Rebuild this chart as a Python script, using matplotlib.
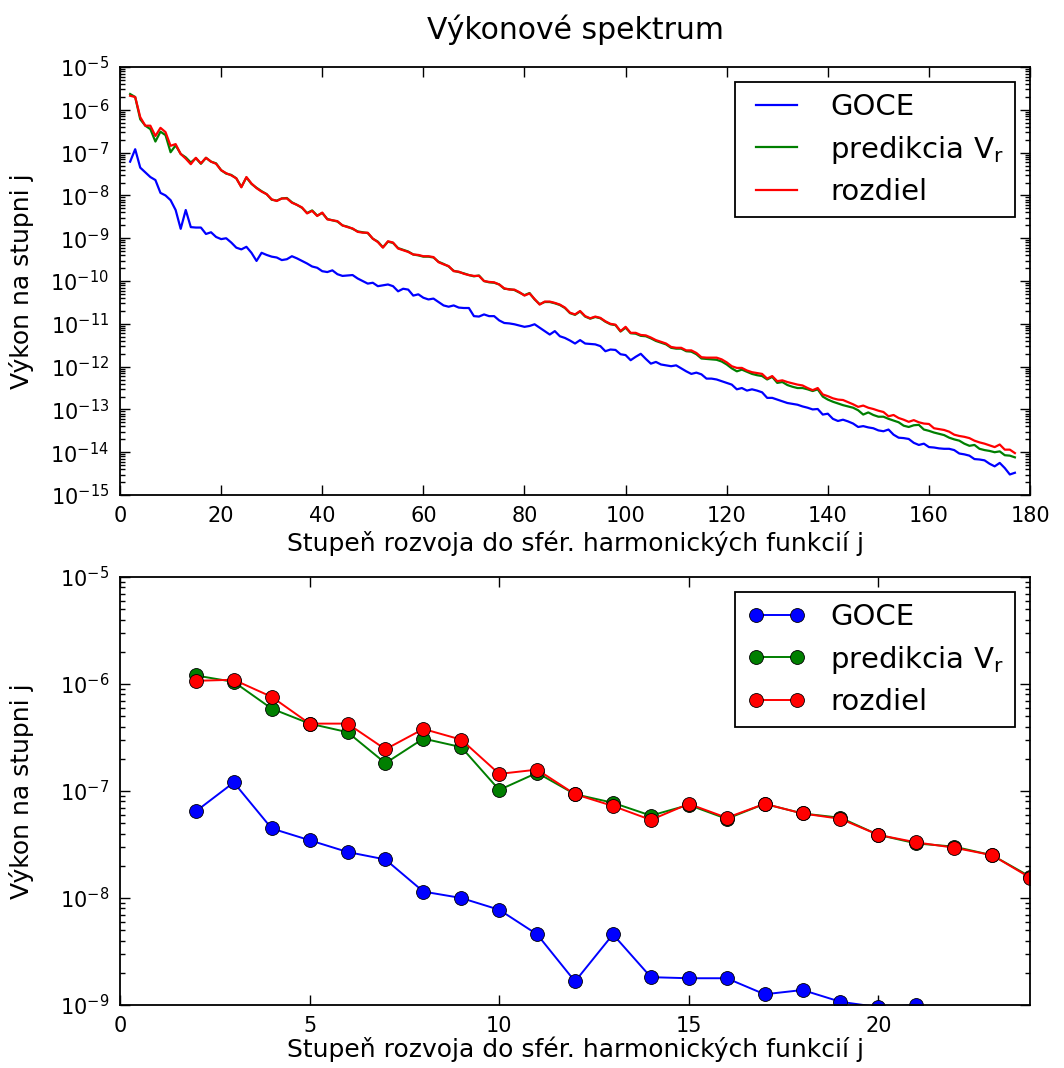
import numpy as np
import matplotlib
matplotlib.use('Agg')
import matplotlib.pyplot as plt
from matplotlib.ticker import (FixedLocator, LogFormatterSciNotation,
                               NullFormatter, MultipleLocator)

plt.rcParams['font.family'] = ['DejaVu Sans']
plt.rcParams['mathtext.fontset'] = 'dejavusans'

# degree j of the spherical harmonic expansion (top panel)
degree = np.arange(2, 178)

# log10 of the power per degree
goce_log = [
    -7.21, -6.92, -7.35, -7.46, -7.57, -7.64, -7.94, -8.00, -8.11, -8.34,
    -8.78, -8.34, -8.74, -8.75, -8.75, -8.90, -8.86, -8.97, -9.02, -9.00,
    -9.10, -9.22, -9.26, -9.20, -9.34, -9.53, -9.34, -9.39, -9.43,
    -9.45, -9.51, -9.49, -9.42, -9.47, -9.53, -9.59, -9.66, -9.69, -9.77,
    -9.79, -9.75, -9.84, -9.88, -9.87, -9.86, -9.94, -10.00, -10.06, -10.04,
    -10.12, -10.10, -10.08, -10.12, -10.24, -10.18, -10.20, -10.34, -10.31, -10.39,
    -10.43, -10.41, -10.49, -10.57, -10.60, -10.57, -10.62, -10.63, -10.63, -10.82,
    -10.83, -10.78, -10.82, -10.82, -10.92, -10.98, -10.99, -11.01, -11.04, -11.07,
    -11.05, -11.01, -11.09, -11.17, -11.25, -11.17, -11.29, -11.33, -11.39, -11.46,
    -11.38, -11.46, -11.47, -11.48, -11.52, -11.64, -11.60, -11.61, -11.71, -11.73,
    -11.85, -11.77, -11.70, -11.82, -11.93, -11.89, -11.95, -11.97, -11.99, -11.97,
    -12.04, -12.11, -12.17, -12.14, -12.18, -12.28, -12.28, -12.30, -12.34, -12.38,
    -12.42, -12.53, -12.50, -12.56, -12.53, -12.56, -12.60, -12.73, -12.73, -12.77,
    -12.81, -12.85, -12.87, -12.89, -12.93, -12.96, -13.00, -12.99, -13.12, -13.10,
    -13.22, -13.27, -13.24, -13.28, -13.33, -13.41, -13.39, -13.42, -13.44,
    -13.49, -13.51, -13.47, -13.59, -13.66, -13.67, -13.69, -13.78, -13.83, -13.80,
    -13.88, -13.89, -13.91, -13.92, -13.92, -13.95, -14.03, -14.05, -14.08, -14.16,
    -14.17, -14.19, -14.27, -14.33, -14.25, -14.37, -14.52, -14.48,
]

pred_log = [
    -5.63, -5.70, -6.22, -6.37, -6.45, -6.74, -6.51, -6.59, -6.99, -6.83,
    -7.03, -7.11, -7.23, -7.13, -7.26, -7.12, -7.21, -7.25, -7.41, -7.49,
    -7.52, -7.60, -7.80, -7.58, -7.73, -7.82, -7.90, -7.97, -8.10,
    -8.12, -8.07, -8.06, -8.16, -8.22, -8.29, -8.41, -8.35, -8.47, -8.41,
    -8.55, -8.58, -8.61, -8.70, -8.73, -8.78, -8.84, -8.86, -8.88, -9.01,
    -9.08, -9.21, -9.08, -9.11, -9.23, -9.27, -9.31, -9.38, -9.40, -9.43,
    -9.43, -9.45, -9.55, -9.60, -9.66, -9.76, -9.79, -9.82, -9.86, -9.89,
    -9.87, -10.00, -10.03, -10.04, -10.08, -10.18, -10.19, -10.21, -10.27, -10.33,
    -10.28, -10.43, -10.54, -10.49, -10.49, -10.52, -10.56, -10.63, -10.75, -10.79,
    -10.71, -10.83, -10.88, -10.84, -10.87, -10.95, -11.01, -11.03, -11.18, -11.09,
    -11.22, -11.23, -11.28, -11.29, -11.34, -11.40, -11.44, -11.48, -11.56, -11.58,
    -11.58, -11.64, -11.65, -11.71, -11.81, -11.82, -11.83, -11.84, -11.88, -11.95,
    -12.04, -12.11, -12.07, -12.12, -12.17, -12.20, -12.22, -12.30, -12.24, -12.38,
    -12.36, -12.43, -12.47, -12.50, -12.50, -12.53, -12.57, -12.53, -12.70, -12.77,
    -12.82, -12.86, -12.90, -12.93, -12.96, -13.02, -13.12, -13.07, -13.13,
    -13.17, -13.17, -13.22, -13.26, -13.30, -13.38, -13.41, -13.37, -13.36, -13.47,
    -13.50, -13.54, -13.57, -13.60, -13.66, -13.70, -13.73, -13.80, -13.85, -13.83,
    -13.92, -13.95, -13.97, -14.00, -13.98, -14.07, -14.08, -14.12,
]

diff_log = [
    -5.67, -5.70, -6.17, -6.37, -6.37, -6.61, -6.42, -6.52, -6.84, -6.80,
    -7.03, -7.14, -7.27, -7.12, -7.25, -7.12, -7.21, -7.26, -7.41, -7.48,
    -7.53, -7.60, -7.81, -7.57, -7.72, -7.83, -7.91, -7.97, -8.09,
    -8.13, -8.07, -8.07, -8.17, -8.22, -8.28, -8.42, -8.36, -8.48, -8.40,
    -8.56, -8.58, -8.60, -8.70, -8.74, -8.77, -8.85, -8.87, -8.87, -9.01,
    -9.09, -9.22, -9.07, -9.10, -9.24, -9.28, -9.32, -9.38, -9.39, -9.42,
    -9.42, -9.44, -9.56, -9.61, -9.65, -9.77, -9.78, -9.83, -9.86, -9.88,
    -9.88, -10.00, -10.02, -10.03, -10.08, -10.17, -10.20, -10.20, -10.26, -10.34,
    -10.29, -10.42, -10.55, -10.48, -10.48, -10.51, -10.55, -10.62, -10.74, -10.78,
    -10.70, -10.82, -10.87, -10.83, -10.86, -10.94, -11.00, -11.02, -11.17, -11.07,
    -11.21, -11.21, -11.26, -11.27, -11.32, -11.38, -11.42, -11.46, -11.54, -11.56,
    -11.56, -11.62, -11.62, -11.68, -11.78, -11.79, -11.79, -11.79, -11.83, -11.90,
    -11.99, -12.03, -12.03, -12.09, -12.13, -12.15, -12.17, -12.28, -12.22, -12.34,
    -12.32, -12.36, -12.39, -12.42, -12.44, -12.50, -12.55, -12.50, -12.65, -12.69,
    -12.74, -12.77, -12.78, -12.83, -12.88, -12.94, -12.91, -12.96, -12.99,
    -13.03, -13.06, -13.16, -13.13, -13.20, -13.24, -13.29, -13.25, -13.30, -13.33,
    -13.34, -13.44, -13.46, -13.48, -13.52, -13.59, -13.62, -13.64, -13.67, -13.73,
    -13.77, -13.80, -13.84, -13.88, -13.82, -13.94, -13.94, -14.02,
]

# bottom panel: low degrees
low_degree = np.arange(2, 25)
low_goce_log = [
    -7.19, -6.92, -7.35, -7.46, -7.57, -7.64, -7.94, -8.00, -8.11, -8.34,
    -8.78, -8.34, -8.74, -8.75, -8.75, -8.90, -8.86, -8.97, -9.02, -9.00,
    -9.10, -9.22, -9.26,
]
low_pred_log = [
    -5.92, -5.98, -6.23, -6.37, -6.45, -6.74, -6.51, -6.59, -6.99, -6.83,
    -7.03, -7.11, -7.23, -7.13, -7.26, -7.12, -7.21, -7.25, -7.41, -7.49,
    -7.52, -7.60, -7.80,
]
low_diff_log = [
    -5.97, -5.96, -6.12, -6.37, -6.37, -6.61, -6.42, -6.52, -6.84, -6.80,
    -7.03, -7.14, -7.27, -7.12, -7.25, -7.12, -7.21, -7.26, -7.41, -7.48,
    -7.53, -7.60, -7.81,
]

labels = ['GOCE', 'predikcia V$_\\mathrm{r}$', 'rozdiel']
colors = ['#0000ff', '#007f00', '#ff0000']
xlabel = 'Stupeň rozvoja do sfér. harmonických funkcií j'
ylabel = 'Výkon na stupni j'


def style_axes(ax, lo, hi, pad):
    ax.set_yscale('log')
    ax.set_ylim(10.0 ** lo, 10.0 ** hi)
    decades = np.arange(lo, hi + 1)
    ax.yaxis.set_major_locator(FixedLocator(10.0 ** decades))
    ax.yaxis.set_major_formatter(LogFormatterSciNotation())
    minors = [m * 10.0 ** d for d in decades[:-1] for m in range(2, 10)]
    ax.yaxis.set_minor_locator(FixedLocator(minors))
    ax.yaxis.set_minor_formatter(NullFormatter())
    ax.tick_params(which='both', direction='in', top=True, right=True,
                   labelsize=15, width=1)
    ax.tick_params(which='major', length=7, pad=8)
    ax.tick_params(which='minor', length=3.5)
    for sp in ax.spines.values():
        sp.set_linewidth(1.3)
    ax.set_xlabel(xlabel, fontsize=18, labelpad=pad)
    ax.set_ylabel(ylabel, fontsize=18)
    ax.yaxis.set_label_coords(-0.094, 0.5)


def add_legend(ax):
    leg = ax.legend(loc='upper right', fontsize=21, fancybox=False, numpoints=2,
                    handlelength=2.0, handletextpad=0.85, borderpad=0.4,
                    labelspacing=0.42, borderaxespad=0.5, framealpha=1)
    leg.get_frame().set_edgecolor('black')
    leg.get_frame().set_linewidth(1.3)


fig = plt.figure(figsize=(10.64, 10.68), dpi=100)
fig.patch.set_facecolor('white')

# top panel: full spectrum
ax1 = fig.add_axes([0.1128, 0.5365, 0.8553, 0.4007])
for y, lab, c in zip([goce_log, pred_log, diff_log], labels, colors):
    ax1.plot(degree, 10.0 ** np.array(y), color=c, lw=1.6, label=lab)
ax1.set_xlim(0, 180)
ax1.xaxis.set_major_locator(MultipleLocator(20))
style_axes(ax1, -15, -5, 3)
ax1.set_title('Výkonové spektrum', fontsize=21.5, pad=20)
add_legend(ax1)

# bottom panel: low degrees with markers
ax2 = fig.add_axes([0.1128, 0.0590, 0.8553, 0.4007])
for y, lab, c in zip([low_goce_log, low_pred_log, low_diff_log], labels, colors):
    ax2.plot(low_degree, 10.0 ** np.array(y), color=c, lw=1.4, marker='o', ms=10,
             mec='black', mew=0.6, label=lab)
ax2.set_xlim(0, 24)
ax2.xaxis.set_major_locator(MultipleLocator(5))
style_axes(ax2, -9, -5, 0)
add_legend(ax2)

fig.savefig('out.png', dpi=100, facecolor='white')
